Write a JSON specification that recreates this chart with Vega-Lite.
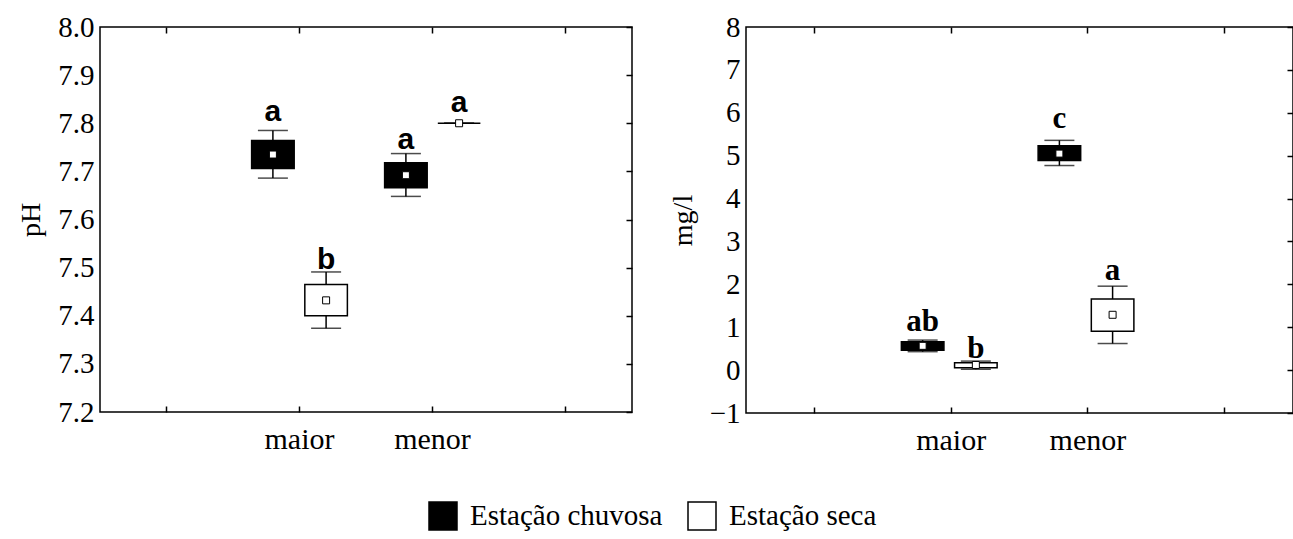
{
  "$schema": "https://vega.github.io/schema/vega-lite/v6.json",
  "background": "white",
  "padding": {"left": 17, "top": 12, "right": 0, "bottom": 0},
  "config": {
    "font": "Liberation Serif, Times New Roman, serif",
    "view": {"stroke": "black", "strokeWidth": 1.5},
    "axis": {"labelFont": "Liberation Serif, Times New Roman, serif", "titleFont": "Liberation Serif, Times New Roman, serif", "labelColor": "black", "titleColor": "black", "tickColor": "black", "domain": false, "grid": false, "titleFontWeight": "normal"},
    "legend": {"labelFont": "Liberation Serif, Times New Roman, serif", "labelLimit": 500, "padding": 0}
  },
  "datasets": {
    "ph": [
      {"grupo": "maior", "estacao": "Estação chuvosa", "media": 7.735, "q1": 7.706, "q3": 7.764, "lo": 7.686, "hi": 7.785, "letra": "a", "ly": 7.805},
      {"grupo": "maior", "estacao": "Estação seca", "media": 7.432, "q1": 7.400, "q3": 7.465, "lo": 7.374, "hi": 7.491, "letra": "b", "ly": 7.497},
      {"grupo": "menor", "estacao": "Estação chuvosa", "media": 7.692, "q1": 7.666, "q3": 7.718, "lo": 7.648, "hi": 7.737, "letra": "a", "ly": 7.746},
      {"grupo": "menor", "estacao": "Estação seca", "media": 7.800, "q1": 7.800, "q3": 7.800, "lo": 7.800, "hi": 7.800, "letra": "a", "ly": 7.823}
    ],
    "od": [
      {"grupo": "maior", "estacao": "Estação chuvosa", "media": 0.566, "q1": 0.465, "q3": 0.66, "lo": 0.43, "hi": 0.70, "letra": "ab", "ly": 0.91},
      {"grupo": "maior", "estacao": "Estação seca", "media": 0.12, "q1": 0.056, "q3": 0.17, "lo": 0.02, "hi": 0.21, "letra": "b", "ly": 0.29},
      {"grupo": "menor", "estacao": "Estação chuvosa", "media": 5.048, "q1": 4.886, "q3": 5.23, "lo": 4.77, "hi": 5.357, "letra": "c", "ly": 5.64},
      {"grupo": "menor", "estacao": "Estação seca", "media": 1.29, "q1": 0.906, "q3": 1.66, "lo": 0.62, "hi": 1.957, "letra": "a", "ly": 2.09}
    ]
  },
  "resolve": {"scale": {"fill": "shared"}, "legend": {"fill": "shared"}},
  "spacing": 34,
  "hconcat": [
    {
      "width": 532,
      "height": 385,
      "data": {"name": "ph"},
      "encoding": {
        "x": {"field": "grupo", "type": "nominal", "title": null,
              "scale": {"domain": ["", "maior", "menor", " "], "paddingInner": 0, "paddingOuter": 0},
              "axis": {"orient": "bottom", "labelAngle": 0, "labelFontSize": 30, "labelFont": "Liberation Serif, Times New Roman, serif", "tickSize": -6, "tickWidth": 1.5, "labelPadding": 18}},
        "xOffset": {"field": "estacao", "type": "nominal", "scale": {"domain": ["Estação chuvosa", "Estação seca"], "paddingInner": 0.2, "paddingOuter": 0.35}}
      },
      "resolve": {"axis": {"x": "independent", "y": "independent"}},
      "layer": [
        {"mark": {"type": "rule", "color": "black", "strokeWidth": 1.5},
         "encoding": {"y": {"field": "lo", "type": "quantitative", "scale": {"domain": [7.2, 8.0], "nice": false, "zero": false},
                            "axis": {"orient": "left", "values": [7.2, 7.3, 7.4, 7.5, 7.6, 7.7, 7.8, 7.9, 8.0], "format": ".1f", "labelFontSize": 29, "labelFont": "Liberation Serif, Times New Roman, serif", "ticks": false, "labelPadding": 6, "title": "pH", "titleFont": "Liberation Serif, Times New Roman, serif", "titleFontSize": 28, "titlePadding": 12}},
                      "y2": {"field": "hi"}}},
        {"mark": {"type": "tick", "orient": "horizontal", "size": 30, "thickness": 1.5, "color": "black"},
         "encoding": {"x": {"field": "grupo", "type": "nominal", "axis": {"orient": "top", "labels": false, "tickSize": -6, "tickWidth": 1.5, "title": null}},
                      "y": {"field": "hi", "type": "quantitative", "axis": {"orient": "right", "labels": false, "tickSize": -6, "tickWidth": 1.5, "title": null, "values": [7.2, 7.3, 7.4, 7.5, 7.6, 7.7, 7.8, 7.9, 8.0]}}}},
        {"mark": {"type": "tick", "orient": "horizontal", "size": 30, "thickness": 1.5, "color": "black"},
         "encoding": {"x": {"field": "grupo", "type": "nominal", "axis": null},
                      "y": {"field": "lo", "type": "quantitative", "axis": null}}},
        {"mark": {"type": "bar", "stroke": "black", "strokeWidth": 1.5},
         "encoding": {"x": {"field": "grupo", "type": "nominal", "axis": null},
                      "y": {"field": "q1", "type": "quantitative", "axis": null}, "y2": {"field": "q3"},
                      "fill": {"field": "estacao", "type": "nominal", "title": null,
                               "scale": {"domain": ["Estação chuvosa", "Estação seca"], "range": ["black", "white"]},
                               "legend": {"orient": "none", "legendX": 328, "legendY": 474, "direction": "horizontal", "symbolType": "square", "symbolSize": 784, "symbolStrokeColor": "black", "symbolStrokeWidth": 1.5, "labelFont": "Liberation Serif, Times New Roman, serif", "labelFontSize": 29, "labelColor": "black", "labelOffset": 12, "labelLimit": 500, "columnPadding": 22}}}},
        {"mark": {"type": "point", "shape": "square", "size": 49, "filled": true, "fill": "white", "stroke": "black", "strokeWidth": 1, "opacity": 1},
         "encoding": {"x": {"field": "grupo", "type": "nominal", "axis": null},
                      "y": {"field": "media", "type": "quantitative", "axis": null}}},
        {"mark": {"type": "text", "font": "Liberation Sans, Arial, sans-serif", "fontWeight": "bold", "fontSize": 30, "baseline": "alphabetic", "color": "black"},
         "encoding": {"x": {"field": "grupo", "type": "nominal", "axis": null},
                      "y": {"field": "ly", "type": "quantitative", "axis": null}, "text": {"field": "letra"}}}
      ]
    },
    {
      "width": 547,
      "height": 386,
      "data": {"name": "od"},
      "encoding": {
        "x": {"field": "grupo", "type": "nominal", "title": null,
              "scale": {"domain": ["", "maior", "menor", " "], "paddingInner": 0, "paddingOuter": 0},
              "axis": {"orient": "bottom", "labelAngle": 0, "labelFontSize": 30, "labelFont": "Liberation Serif, Times New Roman, serif", "tickSize": -6, "tickWidth": 1.5, "labelPadding": 18}},
        "xOffset": {"field": "estacao", "type": "nominal", "scale": {"domain": ["Estação chuvosa", "Estação seca"], "paddingInner": 0.2, "paddingOuter": 0.35}}
      },
      "resolve": {"axis": {"x": "independent", "y": "independent"}},
      "layer": [
        {"mark": {"type": "rule", "color": "black", "strokeWidth": 1.5},
         "encoding": {"y": {"field": "lo", "type": "quantitative", "scale": {"domain": [-1, 8], "nice": false, "zero": false},
                            "axis": {"orient": "left", "values": [-1, 0, 1, 2, 3, 4, 5, 6, 7, 8], "format": "d", "labelFontSize": 29, "labelFont": "Liberation Serif, Times New Roman, serif", "ticks": false, "labelPadding": 6, "title": "mg/l", "titleFont": "Liberation Serif, Times New Roman, serif", "titleFontSize": 28, "titlePadding": 12}},
                      "y2": {"field": "hi"}}},
        {"mark": {"type": "tick", "orient": "horizontal", "size": 30, "thickness": 1.5, "color": "black"},
         "encoding": {"x": {"field": "grupo", "type": "nominal", "axis": {"orient": "top", "labels": false, "tickSize": -6, "tickWidth": 1.5, "title": null}},
                      "y": {"field": "hi", "type": "quantitative", "axis": {"orient": "right", "labels": false, "tickSize": -6, "tickWidth": 1.5, "title": null, "values": [-1, 0, 1, 2, 3, 4, 5, 6, 7, 8]}}}},
        {"mark": {"type": "tick", "orient": "horizontal", "size": 30, "thickness": 1.5, "color": "black"},
         "encoding": {"x": {"field": "grupo", "type": "nominal", "axis": null},
                      "y": {"field": "lo", "type": "quantitative", "axis": null}}},
        {"mark": {"type": "bar", "stroke": "black", "strokeWidth": 1.5},
         "encoding": {"x": {"field": "grupo", "type": "nominal", "axis": null},
                      "y": {"field": "q1", "type": "quantitative", "axis": null}, "y2": {"field": "q3"},
                      "fill": {"field": "estacao", "type": "nominal", "title": null,
                               "scale": {"domain": ["Estação chuvosa", "Estação seca"], "range": ["black", "white"]},
                               "legend": {"orient": "none", "legendX": 328, "legendY": 474, "direction": "horizontal", "symbolType": "square", "symbolSize": 784, "symbolStrokeColor": "black", "symbolStrokeWidth": 1.5, "labelFont": "Liberation Serif, Times New Roman, serif", "labelFontSize": 29, "labelColor": "black", "labelOffset": 12, "labelLimit": 500, "columnPadding": 22}}}},
        {"mark": {"type": "point", "shape": "square", "size": 49, "filled": true, "fill": "white", "stroke": "black", "strokeWidth": 1, "opacity": 1},
         "encoding": {"x": {"field": "grupo", "type": "nominal", "axis": null},
                      "y": {"field": "media", "type": "quantitative", "axis": null}}},
        {"mark": {"type": "text", "font": "Liberation Serif, Times New Roman, serif", "fontWeight": "bold", "fontSize": 31, "baseline": "alphabetic", "color": "black"},
         "encoding": {"x": {"field": "grupo", "type": "nominal", "axis": null},
                      "y": {"field": "ly", "type": "quantitative", "axis": null}, "text": {"field": "letra"}}}
      ]
    }
  ]
}
